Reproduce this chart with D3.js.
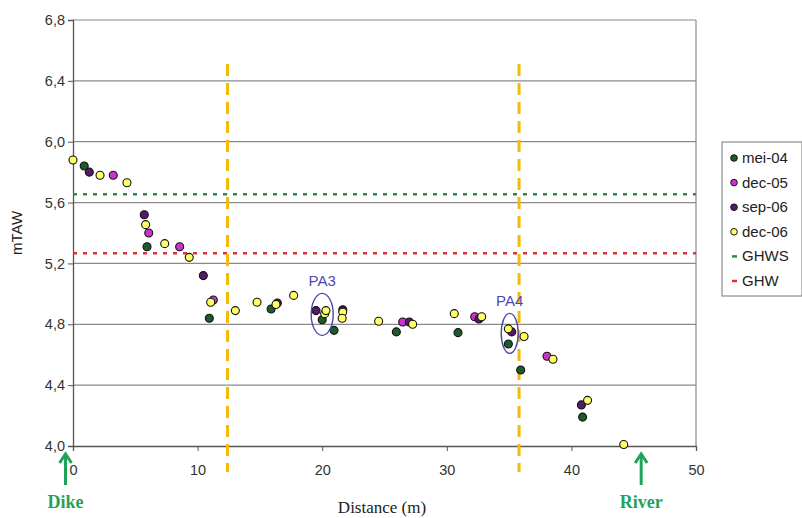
<!DOCTYPE html>
<html>
<head>
<meta charset="utf-8">
<script src="https://d3js.org/d3.v7.min.js"></script>
<style>
  body { margin: 0; background: #fff; }
  svg { display: block; }
</style>
</head>
<body>
<div id="chart"></div>
<script>
// series: [distance (m), level (mTAW)]
const mei04 = [[0.9, 5.84], [5.94, 5.31], [10.94, 4.84], [15.9, 4.90], [20.0, 4.83], [20.95, 4.76],
  [25.95, 4.75], [30.9, 4.745], [34.94, 4.67], [35.93, 4.50], [40.9, 4.19]];
const dec05 = [[3.23, 5.78], [6.08, 5.40], [8.56, 5.31], [11.26, 4.96], [26.46, 4.815], [32.24, 4.85], [38.04, 4.59]];
const sep06 = [[1.31, 5.80], [5.72, 5.52], [10.46, 5.12], [16.4, 4.94], [19.5, 4.89], [21.65, 4.895],
  [26.99, 4.815], [32.58, 4.835], [35.21, 4.75], [40.8, 4.27]];
const dec06 = [[0.0, 5.88], [2.17, 5.78], [4.33, 5.73], [5.83, 5.455], [7.36, 5.33], [9.33, 5.24],
  [11.05, 4.945], [13.03, 4.89], [14.77, 4.945], [16.29, 4.93], [17.71, 4.99], [20.2, 4.87], [20.3, 4.89],
  [21.65, 4.88], [21.6, 4.84], [24.53, 4.82], [27.26, 4.80], [30.6, 4.87], [32.8, 4.85], [34.94, 4.77],
  [36.2, 4.72], [38.52, 4.57], [41.3, 4.30], [44.2, 4.01]];
const seriesNames = ['mei-04', 'dec-05', 'sep-06', 'dec-06'];
const seriesColors = ['#1d5a2c', '#cc33cc', '#561b68', '#ffff66'];
const seriesData = [mei04, dec05, sep06, dec06];
const refNames = ['GHWS', 'GHW'];
const refLevels = [5.655, 5.267];
const refColors = ['#2e8b3e', '#e0303a'];
const zoneBounds = [12.4, 35.8];
const yTicks = [4.0, 4.4, 4.8, 5.2, 5.6, 6.0, 6.4, 6.8];
const xTicks = [0, 10, 20, 30, 40, 50];
const profiles = [{ name: 'PA3', x: 20.0, y: 4.865, rx: 11, ry: 21 }, { name: 'PA4', x: 35.05, y: 4.74, rx: 8.5, ry: 20 }];
const markers = [{ name: 'Dike', x: -0.6 }, { name: 'River', x: 45.6 }];

const W = 802, H = 518;
const pLeft = 73, pRight = 696, pTop = 20, pBottom = 446;

const svg = d3.select('#chart').append('svg').attr('width', W).attr('height', H);

const x = d3.scaleLinear().domain([0, 50]).range([pLeft, pRight]);
const y = d3.scaleLinear().domain([4.0, 6.8]).range([pBottom, pTop]);

// gridlines
svg.append('g').selectAll('line').data(yTicks.slice(1)).enter().append('line')
  .attr('x1', pLeft).attr('x2', pRight)
  .attr('y1', d => y(d)).attr('y2', d => y(d))
  .attr('stroke', '#8a8a8a').attr('stroke-width', 1.2);

// right frame
svg.append('line').attr('x1', pRight).attr('x2', pRight).attr('y1', pTop).attr('y2', pBottom)
  .attr('stroke', '#8a8a8a').attr('stroke-width', 1.2);

// axes
const yAxis = svg.append('g').attr('transform', `translate(${pLeft},0)`)
  .call(d3.axisLeft(y).tickValues(yTicks).tickSize(5).tickFormat(d => d3.format('.1f')(d).replace('.', ',')));
const xAxis = svg.append('g').attr('transform', `translate(0,${pBottom})`)
  .call(d3.axisBottom(x).tickValues(xTicks).tickSize(5));
[yAxis, xAxis].forEach(a => {
  a.select('.domain').attr('stroke', '#555').attr('stroke-width', 1.3);
  a.selectAll('.tick line').attr('stroke', '#555');
  a.selectAll('text').attr('fill', '#333').style('font-family', 'Liberation Sans, Arial, sans-serif').style('font-size', '14.5px');
});
yAxis.selectAll('text').attr('x', -8);
xAxis.selectAll('text').attr('y', 19);

// reference water levels
svg.append('g').selectAll('line').data(refLevels).enter().append('line')
  .attr('x1', pLeft).attr('x2', pRight)
  .attr('y1', d => y(d)).attr('y2', d => y(d))
  .attr('stroke', (d, i) => refColors[i]).attr('stroke-width', 2.5)
  .attr('stroke-dasharray', '4,6');

// zone boundaries
svg.append('g').selectAll('line').data(zoneBounds).enter().append('line')
  .attr('x1', d => x(d)).attr('x2', d => x(d))
  .attr('y1', 64).attr('y2', 472)
  .attr('stroke', '#f5b90a').attr('stroke-width', 3)
  .attr('stroke-dasharray', '12,7');

// points
seriesData.forEach((data, i) => {
  svg.append('g').selectAll('circle').data(data).enter().append('circle')
    .attr('cx', d => x(d[0])).attr('cy', d => y(d[1])).attr('r', 4)
    .attr('fill', seriesColors[i]).attr('stroke', '#111').attr('stroke-width', 1.1);
});

// profile ellipses
const pg = svg.append('g').selectAll('g').data(profiles).enter().append('g');
pg.append('ellipse')
  .attr('cx', d => x(d.x)).attr('cy', d => y(d.y)).attr('rx', d => d.rx).attr('ry', d => d.ry)
  .attr('fill', 'none').attr('stroke', '#4a4aa8').attr('stroke-width', 1.4);
pg.append('text')
  .attr('x', d => x(d.x)).attr('y', d => y(d.y) - d.ry - 7)
  .attr('text-anchor', 'middle')
  .attr('fill', '#4a4ab0').style('font-family', 'Liberation Sans, Arial, sans-serif').style('font-size', '15px')
  .text(d => d.name);

// axis titles
svg.append('text').attr('transform', `translate(22,${(pTop + pBottom) / 2}) rotate(-90)`)
  .attr('text-anchor', 'middle').attr('fill', '#222')
  .style('font-family', 'Liberation Sans, Arial, sans-serif').style('font-size', '15px')
  .text('mTAW');
svg.append('text').attr('x', 382).attr('y', 513)
  .attr('text-anchor', 'middle').attr('fill', '#222')
  .style('font-family', 'Liberation Serif, Times New Roman, serif').style('font-size', '17px')
  .text('Distance (m)');

// dike / river markers
const green = '#1fa35a';
const mg = svg.append('g').selectAll('g').data(markers).enter().append('g')
  .attr('transform', d => `translate(${x(d.x)},0)`);
mg.append('line').attr('x1', 0).attr('x2', 0).attr('y1', 485).attr('y2', 454)
  .attr('stroke', green).attr('stroke-width', 3);
mg.append('path').attr('d', 'M-6,463 L0,454 L6,463')
  .attr('fill', 'none').attr('stroke', green).attr('stroke-width', 3).attr('stroke-linejoin', 'miter');
mg.append('text')
  .attr('x', 0).attr('y', 508).attr('text-anchor', 'middle')
  .attr('fill', green).style('font-family', 'Liberation Serif, Times New Roman, serif')
  .style('font-size', '18px').style('font-weight', 'bold')
  .text(d => d.name);

// legend
const lg = svg.append('g').attr('transform', 'translate(722,142)');
lg.append('rect').attr('width', 80).attr('height', 154).attr('fill', '#fff').attr('stroke', '#777');
const items = seriesNames.map((n, i) => ({ name: n, type: 'dot', color: seriesColors[i] }))
  .concat(refNames.map((n, i) => ({ name: n, type: 'dash', color: refColors[i] })));
const li = lg.selectAll('g').data(items).enter().append('g')
  .attr('transform', (d, i) => `translate(0,${16 + i * 24.6})`);
li.filter(d => d.type === 'dot').append('circle').attr('cx', 12).attr('cy', 0).attr('r', 3.3)
  .attr('fill', d => d.color).attr('stroke', '#111').attr('stroke-width', 1);
li.filter(d => d.type === 'dash').append('line').attr('x1', 10).attr('x2', 15).attr('y1', 0).attr('y2', 0)
  .attr('stroke', d => d.color).attr('stroke-width', 2.5);
li.append('text').attr('x', 20).attr('y', 5).attr('fill', '#222')
  .style('font-family', 'Liberation Sans, Arial, sans-serif').style('font-size', '15px')
  .text(d => d.name);
</script>
</body>
</html>
